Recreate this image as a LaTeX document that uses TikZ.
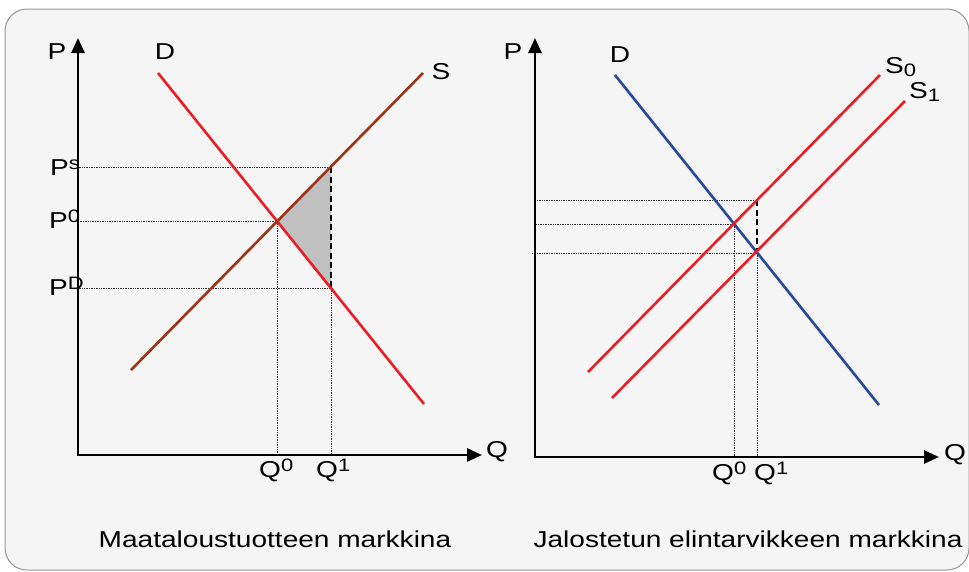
\documentclass[tikz,border=0pt]{standalone}
\usepackage{fontspec}
\setmainfont[FakeStretch=1.22]{Liberation Sans}
\usetikzlibrary{arrows.meta, positioning}
\definecolor{paper}{RGB}{245,245,245}
\definecolor{rim}{RGB}{150,150,150}
\definecolor{crimson}{RGB}{232,30,36}
\definecolor{brick}{RGB}{158,52,22}
\definecolor{navy}{RGB}{42,72,155}
\definecolor{wedge}{RGB}{192,192,192}
\newcommand{\hi}[1]{\raisebox{6pt}{\fontsize{18}{18}\selectfont #1}}
\newcommand{\lo}[1]{\raisebox{-3pt}{\fontsize{18}{18}\selectfont #1}}

\begin{document}
\begin{tikzpicture}[
        x=1pt, y=-1pt,
        axis/.style={line width=2.6pt, {Triangle[length=15pt,width=13pt]}-{Triangle[length=15pt,width=13pt]}},
        curve/.style={line width=2.6pt},
        guide/.style={densely dotted, line width=0.7pt, black!80},
        gap/.style={dash pattern=on 6pt off 3.5pt, line width=1.4pt},
        lbl/.style={font=\fontsize{23}{26}\selectfont, inner sep=0pt},
      ]
      \useasboundingbox (0,0) rectangle (969,571);
      \draw[rim, fill=paper, line width=1pt, rounded corners=22pt] (5,9) rectangle (969,570);

      % left: Maataloustuotteen markkina
      \coordinate (LO) at (78,455);
      \coordinate (Ltop) at (78,38);
      \coordinate (Lright) at (482,455);
      \coordinate (Dtop) at (158,73);
      \coordinate (Dbot) at (424,404);
      \coordinate (Sbot) at (131,370);
      \coordinate (Stop) at (423,73);
      \coordinate (E0) at (277.5,221);
      \coordinate (ES) at (331,167);
      \coordinate (ED) at (331,288);
      \fill[wedge] (E0) -- (ES) -- (ED) -- cycle;
      \draw[guide] (ES) -- (ES -| LO);
      \draw[guide] (E0) -- (E0 -| LO);
      \draw[guide] (ED) -- (ED -| LO);
      \draw[guide] (E0) -- (E0 |- LO);
      \draw[guide] (ED) -- (ED |- LO);
      \draw[gap] (ES) -- (ED);
      \draw[curve, crimson] (Dtop) -- (Dbot);
      \draw[curve, brick] (Sbot) -- (Stop);
      \draw[axis] (Ltop) |- (Lright);
      \node[lbl] (LP) at (57,52) {P};
      \node[lbl] (LD) at (165,52) {D};
      \node[lbl] (LS) at (441,72) {S};
      \node[lbl] (LQ) at (497,452) {Q};
      \node[lbl, anchor=base west] (LPs) at (50,175) {P\hi{s}};
      \node[lbl, anchor=base west] (LP0) at (49,228) {P\hi{0}};
      \node[lbl, anchor=base west] (LPD) at (49,295) {P\hi{D}};
      \node[lbl, anchor=base west] (LQ0) at (259,477) {Q\hi{0}};
      \node[lbl, anchor=base west] (LQ1) at (316,477) {Q\hi{1}};
      \node[lbl, anchor=base] (Lcap) at (275,547) {Maataloustuotteen markkina};

      % right: Jalostetun elintarvikkeen markkina
      \coordinate (RO) at (535,457);
      \coordinate (Rtop) at (535,38);
      \coordinate (Rright) at (939,457);
      \coordinate (Btop) at (615,75);
      \coordinate (Bbot) at (879,405);
      \coordinate (S0top) at (880,75);
      \coordinate (S0bot) at (588,372);
      \coordinate (S1top) at (905,101);
      \coordinate (S1bot) at (612,398);
      \coordinate (F0) at (734,224);
      \coordinate (F1) at (757,253);
      \coordinate (F1up) at (757,200);
      \draw[guide] (F1up) -- (F1up -| RO);
      \draw[guide] (F0) -- (F0 -| RO);
      \draw[guide] (F1) -- ([xshift=-3pt]F1 -| RO);
      \draw[guide] (F0) -- (F0 |- RO);
      \draw[guide] (F1) -- (F1 |- RO);
      \draw[gap] (F1up) -- (F1);
      \draw[curve, navy] (Btop) -- (Bbot);
      \draw[curve, crimson] (S0bot) -- (S0top);
      \draw[curve, crimson] (S1bot) -- (S1top);
      \draw[axis] (Rtop) |- (Rright);
      \node[lbl] (RP) at (513,52) {P};
      \node[lbl] (RD) at (620,55) {D};
      \node[lbl, anchor=base west] (RS0) at (885,73) {S\lo{0}};
      \node[lbl, anchor=base west] (RS1) at (909,98) {S\lo{1}};
      \node[lbl] (RQ) at (955,455) {Q};
      \node[lbl, anchor=base west] (RQ0) at (712,480) {Q\hi{0}};
      \node[lbl, anchor=base west] (RQ1) at (754,480) {Q\hi{1}};
      \node[lbl, anchor=base] (Rcap) at (748,547) {Jalostetun elintarvikkeen markkina};
    \end{tikzpicture}
\end{document}
